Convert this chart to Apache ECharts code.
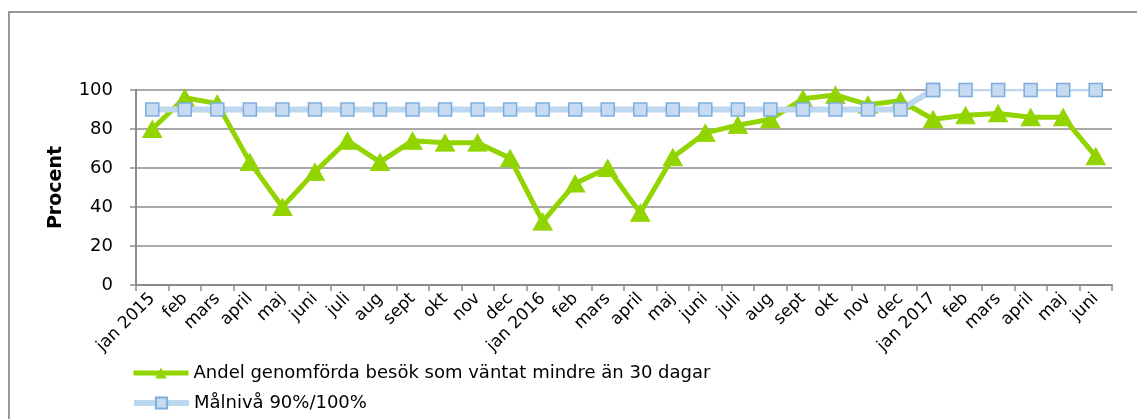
<!DOCTYPE html>
<html>
<head>
<meta charset="utf-8">
<script src="https://cdn.jsdelivr.net/npm/echarts@6/dist/echarts.min.js"></script>
<style>html,body{margin:0;padding:0;background:#fff;}#c{width:1137px;height:419px;}</style>
</head>
<body>
<div id="c"></div>
<script>
const categories = ['jan 2015','feb','mars','april','maj','juni','juli','aug','sept','okt','nov','dec',
  'jan 2016','feb','mars','april','maj','juni','juli','aug','sept','okt','nov','dec',
  'jan 2017','feb','mars','april','maj','juni'];
const andel = [80,96,93,63,40,58,74,63,74,73,73,65,32.5,52,60,37,65.5,78,82,85,95.5,97.5,92.5,94.5,85,87,88,86,86,66];
const target = [90,90,90,90,90,90,90,90,90,90,90,90,90,90,90,90,90,90,90,90,90,90,90,90,100,100,100,100,100,100];
const yTicks = [0,20,40,60,80,100];
const name1 = 'Andel genomförda besök som väntat mindre än 30 dagar';
const name2 = 'Målnivå 90%/100%';
const splitIdx = 24;

const FONT = '"DejaVu Sans", Verdana, sans-serif';
const targetA = target.map((v,i)=> i<=splitIdx ? v : null);
const targetB = target.map((v,i)=> i>=splitIdx ? v : null);
const grey = '#8c8c8c';
const legendBase = {orient:'vertical',left:131,padding:0,itemWidth:55,itemHeight:14,
  textStyle:{fontFamily:FONT,fontSize:18,color:'#000'}};
const chart = echarts.init(document.getElementById('c'));
chart.setOption({
  animation:false,
  textStyle:{fontFamily:FONT},
  graphic:[{type:'rect',shape:{x:9,y:12,width:1300,height:600},style:{fill:'none',stroke:'#999',lineWidth:2},silent:true,z:-1}],
  grid:{left:136,right:25,top:90,bottom:134,containLabel:false},
  legend:[
    Object.assign({},legendBase,{top:364,data:[name1],lineStyle:{width:5}}),
    Object.assign({},legendBase,{top:394,data:[name2],lineStyle:{width:6}})
  ],
  xAxis:{
    type:'category',data:categories,boundaryGap:true,
    axisLine:{lineStyle:{color:grey,width:2}},
    axisTick:{show:true,length:6,lineStyle:{color:grey,width:1.5},alignWithLabel:false},
    axisLabel:{rotate:45,fontSize:17,color:'#000',interval:0,margin:11,fontFamily:FONT}
  },
  yAxis:{
    type:'value',min:yTicks[0],max:yTicks[yTicks.length-1],interval:20,
    name:'Procent',nameLocation:'middle',nameRotate:90,nameGap:70,
    nameTextStyle:{fontFamily:FONT,fontSize:19,fontWeight:'bold',color:'#000'},
    axisLine:{show:true,lineStyle:{color:grey,width:2}},
    axisTick:{show:true,length:6,lineStyle:{color:grey,width:1.5}},
    axisLabel:{fontSize:18,color:'#000',margin:23,fontFamily:FONT},
    splitLine:{lineStyle:{color:grey,width:1.5}}
  },
  series:[
    {name:name1,type:'line',data:andel,z:3,
     symbol:'triangle',symbolSize:[19,17],
     lineStyle:{color:'#92D400',width:5},
     itemStyle:{color:'#92D400',borderColor:'#92D400'}},
    {name:name2,type:'line',data:targetA,z:4,connectNulls:false,
     symbol:'rect',symbolSize:13,
     lineStyle:{color:'#BDD7EE',width:6},
     itemStyle:{color:'#C6DAF1',borderColor:'#7DADDF',borderWidth:1.5}},
    {name:name2,type:'line',data:targetB,z:4,connectNulls:false,
     symbol:'rect',symbolSize:13,
     lineStyle:{color:'#BDD7EE',width:2.5},
     itemStyle:{color:'#C6DAF1',borderColor:'#7DADDF',borderWidth:1.5}}
  ]
});
</script>
</body>
</html>
